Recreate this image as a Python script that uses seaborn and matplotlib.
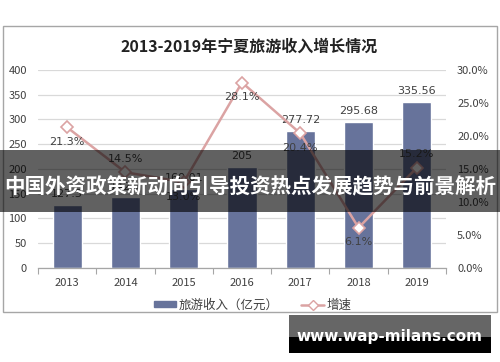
import matplotlib
matplotlib.use("Agg")
import matplotlib.pyplot as plt
from matplotlib.patches import Rectangle
from matplotlib.lines import Line2D
from matplotlib.ticker import FuncFormatter, MultipleLocator
import seaborn as sns
import pandas as pd
import numpy as np

years = [2013, 2014, 2015, 2016, 2017, 2018, 2019]
revenue = [127.3, 142.7, 160.01, 205, 277.72, 295.68, 335.56]
revenue_labels = ["127.3", "142.7", "160.01", "205", "277.72", "295.68", "335.56"]
growth = [21.3, 14.5, 13.0, 28.1, 20.4, 6.1, 15.2]
growth_labels = ["21.3%", "14.5%", "13.0%", "28.1%", "20.4%", "6.1%", "15.2%"]
label_above = [False, True, False, False, False, False, True]

title = "2013-2019年宁夏旅游收入增长情况"
legend_bar = "旅游收入（亿元）"
legend_line = "增速"
banner = "中国外资政策新动向引导投资热点发展趋势与前景解析"
watermark = "www.wap-milans.com"

sns.set_theme(style="white")
plt.rcParams['font.family'] = ['Noto Sans CJK SC', 'DejaVu Sans']

BAR = "#67739b"
LINE = "#dba3a3"
TXT = "#404040"

df = pd.DataFrame({"year": years, "revenue": revenue, "growth": growth})

fig = plt.figure(figsize=(5, 3.62), dpi=100)
fig.patch.set_facecolor("white")
ax = fig.add_axes([0.076, 0.2597, 0.816, 0.547])

sns.barplot(data=df, x="year", y="revenue", native_scale=True, width=0.5,
            color=BAR, saturation=1, ax=ax, zorder=2)
ax.set_xlim(2012.5, 2019.5)
ax.set_ylim(0, 400)
ax.yaxis.set_major_locator(MultipleLocator(50))
ax.grid(axis="y", color="#d9d9d9", lw=0.9, zorder=0)
ax.set_axisbelow(True)
ax.set_xlabel("")
ax.set_ylabel("")
ax.set_xticks(years)
ax.set_xticklabels([str(y) for y in years])
ax.set_xticks(np.arange(2012.5, 2020, 1.0), minor=True)
ax.tick_params(axis="x", which="major", length=0, labelsize=8, labelcolor=TXT, pad=7)
ax.tick_params(axis="x", which="minor", length=4, color="#a6a6a6", width=0.8, direction="out", bottom=True)
ax.tick_params(axis="y", length=0, labelsize=8, labelcolor=TXT, pad=8)
for s in ["left", "right", "top"]:
    ax.spines[s].set_visible(False)
ax.spines["bottom"].set_color("#a6a6a6")
ax.spines["bottom"].set_linewidth(0.9)

for x, v, lab in zip(years, revenue, revenue_labels):
    ax.annotate(lab, (x, v), xytext=(0, 4), textcoords="offset points",
                ha="center", va="bottom", fontsize=8, color=TXT,
                family=['DejaVu Sans'])

ax2 = ax.twinx()
sns.lineplot(data=df, x="year", y="growth", ax=ax2, color=LINE, lw=1.8,
             marker="D", markersize=6, markerfacecolor="white",
             markeredgecolor=LINE, markeredgewidth=1.2, sort=False, zorder=3)
ax2.set_ylim(0, 30)
ax2.yaxis.set_major_locator(MultipleLocator(5))
ax2.yaxis.set_major_formatter(FuncFormatter(lambda v, p: f"{v:.1f}%"))
ax2.set_ylabel("")
ax2.tick_params(axis="y", length=0, labelsize=8, labelcolor=TXT, pad=8)
ax2.grid(False)
for s in ["left", "right", "top", "bottom"]:
    ax2.spines[s].set_visible(False)
ax2.set_xlim(2012.5, 2019.5)

for x, v, lab, up in zip(years, growth, growth_labels, label_above):
    ax2.annotate(lab, (x, v), xytext=(0, 6 if up else -7), textcoords="offset points",
                 ha="center", va="bottom" if up else "top", fontsize=8, color=TXT,
                 family=['DejaVu Sans'])

fig.text(0.498, 1 - 47 / 362, title, ha="center", va="center", fontsize=11.5,
         color="#222222", fontweight="bold")

handles = [Rectangle((0, 0), 1, 1, color=BAR),
           Line2D([0], [0], color=LINE, lw=1.8, marker="D", markersize=5,
                  markerfacecolor="white", markeredgecolor=LINE)]
fig.legend(handles, [legend_bar, legend_line], loc="center", ncol=2,
           bbox_to_anchor=(0.505, 1 - 305 / 362), frameon=False, fontsize=9,
           handlelength=1.8, handleheight=0.35, columnspacing=1.8, handletextpad=0.2,
           labelcolor=TXT)

fig.patches.append(Rectangle((3 / 500, 1 - 312 / 362), 494 / 500, 286 / 362,
                             transform=fig.transFigure, fill=False,
                             edgecolor="#a6a6a6", lw=1.0, zorder=0))

# overlay banner
fig.patches.append(Rectangle((0, 1 - 212 / 362), 1, 62 / 362, transform=fig.transFigure,
                             facecolor="black", alpha=0.62, edgecolor="none", zorder=10))
fig.text(0.5, 1 - 187 / 362, banner, ha="center", va="center", fontsize=14.8,
         color="white", fontweight="bold", zorder=11)

# watermark
fig.patches.append(Rectangle((289 / 500, 1 - 337 / 362), 202 / 500, 22 / 362,
                             transform=fig.transFigure, facecolor="black", alpha=0.6,
                             edgecolor="none", zorder=10))
fig.patches.append(Rectangle((289 / 500, 1 - 353 / 362), 202 / 500, 16 / 362,
                             transform=fig.transFigure, facecolor="black",
                             edgecolor="none", zorder=10))
fig.text(389 / 500, 1 - 337 / 362, watermark, ha="center", va="center", fontsize=11,
         color="white", fontweight="bold", family=['DejaVu Sans'], zorder=11)

fig.savefig("out.png", dpi=100)
